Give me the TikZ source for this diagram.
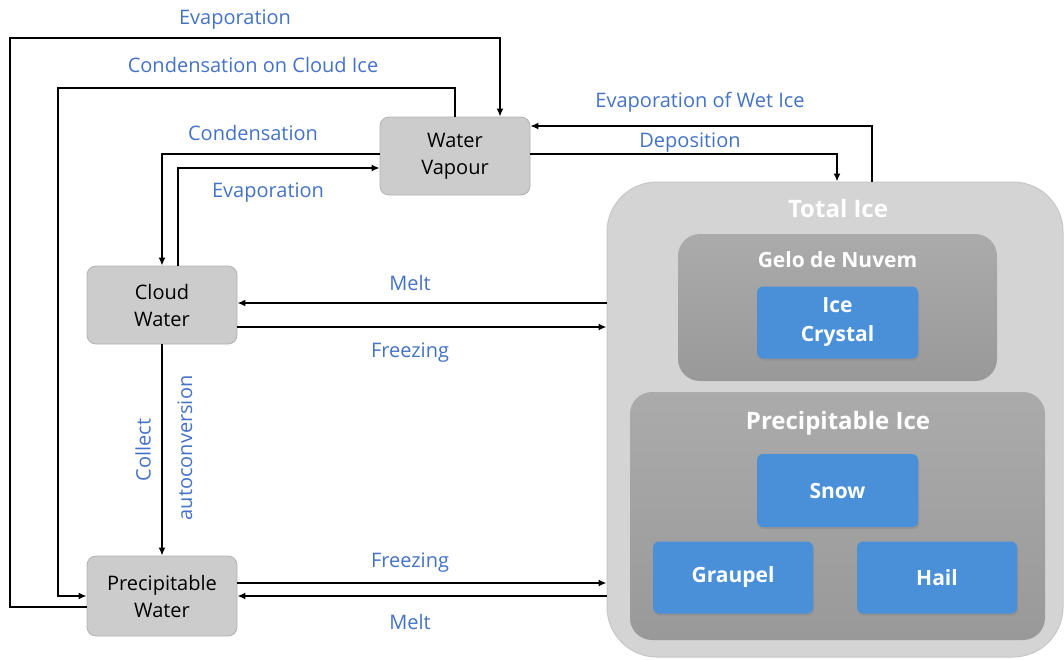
\documentclass[tikz,border=0pt]{standalone}
\usepackage{fontspec}
\setmainfont{Open Sans}
\usetikzlibrary{arrows.meta,shadows,calc}
\definecolor{lblue}{RGB}{68,114,196}
\definecolor{bbox}{RGB}{74,144,217}
\definecolor{gbox}{RGB}{204,204,204}
\definecolor{gline}{RGB}{178,178,178}
\tikzset{
  proc/.style={draw=gline,line width=0.8pt,fill=gbox,rounded corners=9pt,minimum width=150pt,minimum height=78pt,inner sep=0pt,align=center,font=\fontsize{20}{27}\selectfont,text=black},
  bluebox/.style={fill=bbox,rounded corners=6pt,minimum width=161pt,minimum height=72pt,inner sep=0pt,align=center,text=white,font=\fontsize{21}{29}\selectfont\bfseries,drop shadow={opacity=0.35,shadow xshift=1pt,shadow yshift=-2pt}},
  group/.style={rounded corners=22pt,top color=black!33,bottom color=black!40,inner sep=0pt},
  lbl/.style={text=lblue,font=\fontsize{20}{24}\selectfont,inner sep=1pt},
  title/.style={text=white,inner sep=0pt},
  arr/.style={line width=2pt,-{Latex[length=8pt,width=7pt]}},
}
\begin{document}
\begin{tikzpicture}[x=1pt,y=-1pt]
\useasboundingbox (0,0) rectangle (1064,659);
% total ice container
\node[draw=black!22,line width=1pt,fill=black!17,rounded corners=50pt,minimum width=456pt,minimum height=475pt,inner sep=0pt] (ti) at (835,419.5) {};
\node[title,font=\fontsize{24}{28}\selectfont\bfseries] (tit) at (838,208) {Total Ice};
\node[group,minimum width=319pt,minimum height=147pt] (gn) at (837.5,307.5) {};
\node[title,font=\fontsize{21}{25}\selectfont\bfseries] (gnt) at (837.5,260) {Gelo de Nuvem};
\node[bluebox] (ic) at (837.5,322.5) {Ice\\Crystal};
\node[group,minimum width=415pt,minimum height=248pt] (pi) at (837.5,516) {};
\node[title,font=\fontsize{24}{28}\selectfont\bfseries] (pit) at (838,423) {Precipitable Ice};
\node[bluebox,minimum height=73pt] (sn) at (837.5,490.5) {Snow};
\node[bluebox,minimum width=160pt] (gr) at (733,577.5) {Graupel};
\node[bluebox,minimum width=160pt] (ha) at (937,577.5) {Hail};
% water nodes
\node[proc] (wv) at (455,156) {Water\\Vapour};
\node[proc] (cw) at (162,305) {Cloud\\Water};
\node[proc,minimum height=80pt] (pw) at (162,596) {Precipitable\\Water};
% corner coordinates
\coordinate (evL) at (10,38);
\coordinate (ccL) at (58,88);
% connectors
\draw[arr] ([yshift=-11pt]pw.west) -| (evL) -| ([xshift=45pt]wv.north);
\draw[arr] (wv.north) |- (ccL) |- (pw.west);
\draw[arr] ([yshift=2pt]wv.west) -| (cw.north);
\draw[arr] ([xshift=16pt]cw.north) |- ([yshift=-12pt]wv.west);
\draw[arr] ([xshift=37pt]ti.north) |- ([yshift=30pt]wv.east);
\draw[arr] ([yshift=2pt]wv.east) -| ([xshift=2pt]ti.north);
\coordinate (m1) at ([yshift=2pt]cw.east);
\draw[arr] (ti.west |- m1) -- (m1);
\coordinate (f1) at ([yshift=-22pt]cw.east);
\draw[arr] (f1) -- (ti.west |- f1);
\coordinate (f2) at ([yshift=13pt]pw.east);
\draw[arr] (f2) -- (ti.west |- f2);
\draw[arr] (ti.west |- pw.east) -- (pw.east);
\draw[arr] (cw.south) -- (pw.north);
% labels
\node[lbl] (l1) at (235,20) {Evaporation};
\node[lbl] (l2) at (253,65) {Condensation on Cloud Ice};
\node[lbl] (l3) at (253,133) {Condensation};
\node[lbl] (l4) at (268,193) {Evaporation};
\node[lbl] (l5) at (700,102) {Evaporation of Wet Ice};
\node[lbl] (l6) at (690,143) {Deposition};
\node[lbl] (l7) at (410,283) {Melt};
\node[lbl] (l8) at (410,353) {Freezing};
\node[lbl] (l9) at (410,563) {Freezing};
\node[lbl] (l10) at (410,622) {Melt};
\node[lbl,rotate=90] (l11) at (143,450) {Collect};
\node[lbl,rotate=90] (l12) at (185,448) {autoconversion};
\end{tikzpicture}
\end{document}
